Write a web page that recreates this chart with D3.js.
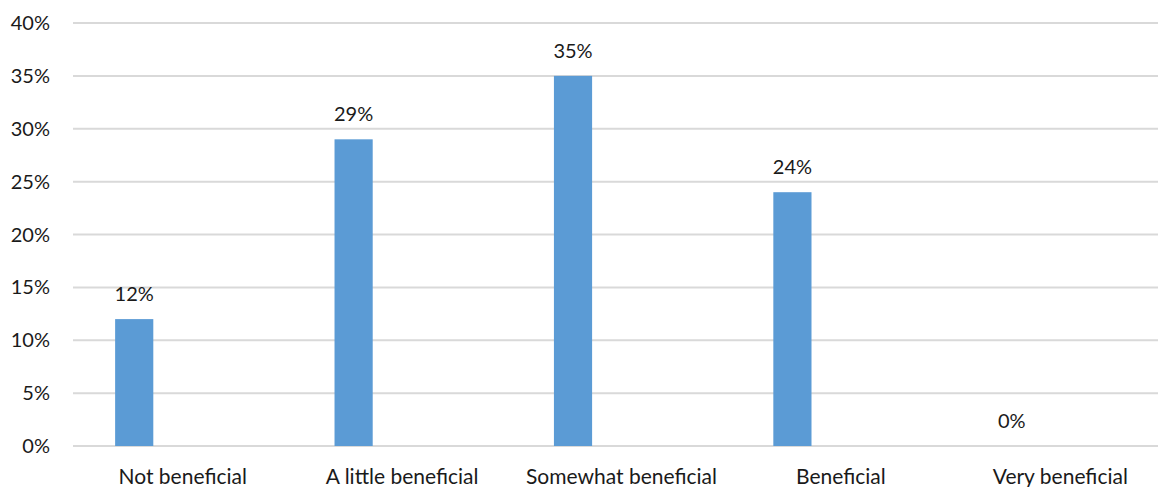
<!DOCTYPE html>
<html>
<head>
<meta charset="utf-8">
<script src="https://cdn.jsdelivr.net/npm/d3@7"></script>
<style>
  body { margin: 0; background: #fff; }
  text { font-family: Lato, "Open Sans", sans-serif; fill: #1a1a1a; }
</style>
</head>
<body>
<svg id="chart" width="1158" height="487"></svg>
<script>
const categories = ["Not beneficial", "A little beneficial", "Somewhat beneficial", "Beneficial", "Very beneficial"];
const values = [12, 29, 35, 24, 0];
const yTicks = [0, 5, 10, 15, 20, 25, 30, 35, 40];

const svg = d3.select("#chart");
const plotLeft = 73, plotRight = 1170, plotTop = 23, plotBottom = 446;

const x = d3.scaleBand()
    .domain(categories)
    .range([plotLeft, plotRight])
    .padding(0);

const y = d3.scaleLinear()
    .domain([0, 40])
    .range([plotBottom, plotTop]);

// gridlines
svg.append("g")
    .selectAll("line")
    .data(yTicks)
    .join("line")
    .attr("x1", plotLeft)
    .attr("x2", 1158)
    .attr("y1", d => y(d))
    .attr("y2", d => y(d))
    .attr("stroke", "#d9d9d9")
    .attr("stroke-width", 2);

// y labels
svg.append("g")
    .selectAll("text")
    .data(yTicks)
    .join("text")
    .attr("x", 50)
    .attr("y", d => y(d))
    .attr("dy", "0.35em")
    .attr("text-anchor", "end")
    .style("font-size", "20px")
    .text(d => d + "%");

const bw = x.bandwidth();
const barOff = bw * 0.192, barW = bw * 0.174;

svg.append("g")
    .selectAll("rect")
    .data(values)
    .join("rect")
    .attr("x", (d, i) => x(categories[i]) + barOff)
    .attr("y", d => y(d))
    .attr("width", barW)
    .attr("height", d => plotBottom - y(d))
    .attr("fill", "#5b9bd5");

// value labels
svg.append("g")
    .selectAll("text")
    .data(values)
    .join("text")
    .attr("x", (d, i) => x(categories[i]) + barOff + barW / 2)
    .attr("y", d => y(d) - 18)
    .attr("text-anchor", "middle")
    .style("font-size", "20px")
    .text(d => d + "%");

// category labels
svg.append("g")
    .selectAll("text")
    .data(categories)
    .join("text")
    .attr("x", d => x(d) + bw / 2)
    .attr("y", 484)
    .attr("text-anchor", "middle")
    .style("font-size", "21px")
    .text(d => d);
</script>
</body>
</html>
